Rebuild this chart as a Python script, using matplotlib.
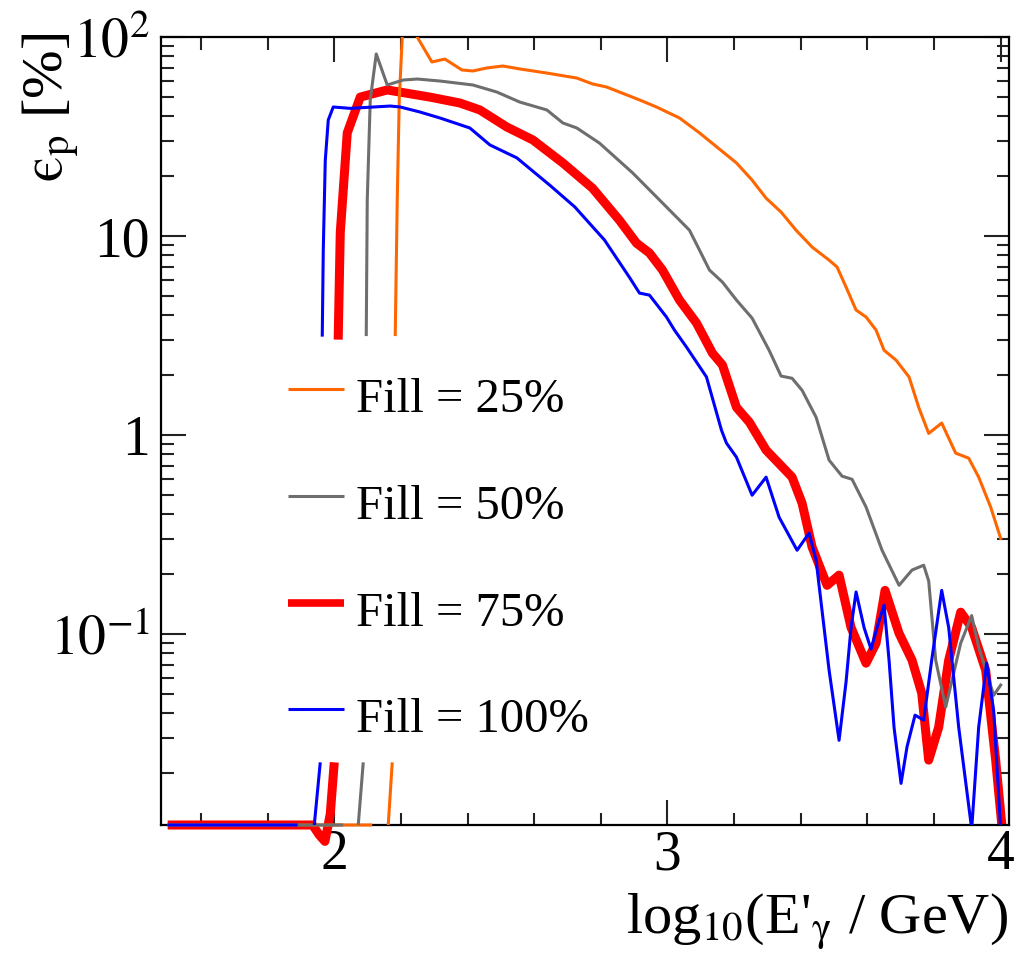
import numpy as np
import matplotlib
matplotlib.use("Agg")
import matplotlib.pyplot as plt
from matplotlib.ticker import FixedLocator, FixedFormatter

plt.rcParams['font.family'] = ['Liberation Serif', 'DejaVu Serif']
plt.rcParams['mathtext.fontset'] = 'stix'

# efficiency curves: log10(E'/GeV) vs eps_p [%]
# "low" parts are the bits drawn on the frame floor (zero efficiency -> 0)
labels = ['Fill = 25%', 'Fill = 50%', 'Fill = 75%', 'Fill = 100%']
colors = ['#ff6600', '#6e6e6e', '#ff0000', '#0000ff']
widths = [2.2, 2.2, 6.5, 2.2]

orange_low_x = [1.50, 2.114, np.nan, 2.162, 2.174]
orange_low_y = [0, 0, np.nan, 0, 0.0227]
orange_x = [2.183, 2.189, 2.195, 2.204, 2.225, 2.249, 2.293, 2.332, 2.383, 2.416,
            2.458, 2.506, 2.557, 2.638, 2.728, 2.775, 2.817, 2.856, 2.916, 2.967,
            3.036, 3.096, 3.207, 3.254, 3.296, 3.341, 3.386, 3.434, 3.485, 3.509,
            3.536, 3.566, 3.596, 3.626, 3.650, 3.686, 3.725, 3.754, 3.784, 3.823,
            3.865, 3.904, 3.934, 3.970, 4.000]
orange_y = [3.2, 15.2, 48.3, 100, 130, 100, 74.9, 77.5, 68.3, 67.5,
            69.9, 71.5, 69.1, 65.9, 62.2, 58.1, 56.1, 52.9, 48.3, 44.5,
            39.2, 33.0, 23.3, 19.1, 15.5, 13.2, 10.7, 8.81, 7.57, 6.99,
            5.54, 4.25, 3.92, 3.37, 2.67, 2.38, 1.96, 1.38, 1.02, 1.15,
            0.812, 0.766, 0.615, 0.435, 0.303]

gray_low_x = [1.50, 2.027, np.nan, 2.072, 2.087]
gray_low_y = [0, 0, np.nan, 0, 0.0227]
gray_x = [2.096, 2.099, 2.108, 2.126, 2.159, 2.207, 2.249, 2.317, 2.416, 2.488,
          2.557, 2.638, 2.686, 2.728, 2.796, 2.895, 2.997, 3.066, 3.096, 3.126,
          3.165, 3.207, 3.254, 3.305, 3.341, 3.374, 3.404, 3.446, 3.485, 3.524,
          3.554, 3.596, 3.644, 3.695, 3.734, 3.769, 3.784, 3.805, 3.835, 3.880,
          3.913, 3.934, 3.979, 4.000]
gray_y = [3.2, 15.2, 48.3, 82.2, 57.4, 60.8, 61.5, 60.1, 57.4, 52.9,
          47.1, 43.0, 37.0, 34.9, 29.3, 20.8, 14.0, 10.7, 8.51, 6.75,
          5.87, 4.77, 3.87, 2.67, 1.98, 1.93, 1.68, 1.23, 0.749, 0.622,
          0.60, 0.435, 0.264, 0.176, 0.210, 0.222, 0.185, 0.074, 0.043, 0.0901,
          0.124, 0.0861, 0.0493, 0.0555]

red_low_x = [1.50, 1.935, 1.955, 1.972, 1.988, 2.000]
red_low_y = [0, 0, 0.0098, 0.0091, 0.0125, 0.0227]
red_x = [2.012, 2.018, 2.039, 2.078, 2.159, 2.287, 2.377, 2.437, 2.518, 2.596,
         2.686, 2.775, 2.856, 2.907, 2.946, 2.985, 3.036, 3.087, 3.135, 3.165,
         3.207, 3.246, 3.296, 3.374, 3.404, 3.434, 3.479, 3.515, 3.551, 3.596,
         3.626, 3.653, 3.695, 3.734, 3.763, 3.784, 3.814, 3.844, 3.880, 3.913,
         3.955, 3.985, 4.003]
red_y = [3.18, 10.4, 33.0, 49.9, 54.2, 49.9, 46.6, 43.0, 35.3, 30.4,
         23.3, 17.4, 12.0, 9.22, 8.22, 6.75, 4.77, 3.66, 2.58, 2.25,
         1.38, 1.16, 0.841, 0.615, 0.455, 0.274, 0.176, 0.198, 0.108, 0.0715,
         0.0901, 0.166, 0.101, 0.074, 0.0506, 0.0233, 0.0341, 0.074, 0.129, 0.108,
         0.0659, 0.0233, 0.0112]

blue_low_x = [1.50, 1.89, np.nan, 1.940, 1.958]
blue_low_y = [0, 0, np.nan, 0, 0.0227]
blue_x = [1.964, 1.967, 1.973, 1.982, 1.997, 2.048, 2.168, 2.198, 2.257, 2.317,
          2.407, 2.467, 2.548, 2.647, 2.722, 2.811, 2.886, 2.916, 2.946, 2.997,
          3.021, 3.057, 3.117, 3.162, 3.177, 3.207, 3.254, 3.296, 3.335, 3.389,
          3.425, 3.446, 3.485, 3.515, 3.536, 3.551, 3.566, 3.590, 3.611, 3.629,
          3.650, 3.665, 3.680, 3.701, 3.719, 3.743, 3.769, 3.793, 3.823, 3.844,
          3.874, 3.913, 3.934, 3.958, 3.979, 4.000]
blue_y = [3.18, 8.5, 24.0, 38.3, 44.5, 43.8, 45.0, 44.5, 42.0, 39.2,
          34.9, 28.7, 24.7, 18.0, 14.0, 9.55, 6.2, 5.17, 5.05, 3.92,
          3.37, 2.77, 1.96, 1.06, 0.912, 0.775, 0.499, 0.615, 0.387, 0.264,
          0.322, 0.236, 0.066, 0.0293, 0.0576, 0.108, 0.163, 0.108, 0.084, 0.108,
          0.140, 0.074, 0.034, 0.0178, 0.0272, 0.0392, 0.037, 0.074, 0.166, 0.108,
          0.0341, 0.0105, 0.0341, 0.0715, 0.0412, 0.0105]

x_ticks = [2, 3, 4]
x_ticklabels = ['2', '3', '4']
y_ticks = [0.1, 1, 10, 100]
y_ticklabels = [r'$10^{-1}$', '1', '10', r'$10^{2}$']

xmin, xmax = 1.48, 4.025
ymin, ymax = 0.011, 100

W, H = 1017, 965
fig = plt.figure(figsize=(W / 100, H / 100), dpi=100)
L, R, T, B = 161, 1009, 37, 825
ax = fig.add_axes([L / W, 1 - B / H, (R - L) / W, (B - T) / H])
ax.set_xlim(xmin, xmax)
ax.set_yscale('log')
ax.set_ylim(ymin, ymax)

def floor(y):
    y = np.array(y, dtype=float)
    return np.where(y <= 0, ymin, y)

series = [
    (orange_low_x, orange_low_y, orange_x, orange_y, 3),
    (gray_low_x, gray_low_y, gray_x, gray_y, 4),
    (red_low_x, red_low_y, red_x, red_y, 2),
    (blue_low_x, blue_low_y, blue_x, blue_y, 5),
]
for (lx, ly, hx, hy, z), c, lw in zip(series, colors, widths):
    ax.plot(lx, floor(ly), color=c, lw=lw, zorder=z, clip_on=False,
            solid_capstyle='butt')
    ax.plot(hx, hy, color=c, lw=lw, zorder=z, solid_joinstyle='round')

# ticks, ROOT style
ax.xaxis.set_major_locator(FixedLocator(x_ticks))
ax.xaxis.set_major_formatter(FixedFormatter(x_ticklabels))
ax.xaxis.set_minor_locator(FixedLocator(np.arange(1.6, 4.01, 0.2)))
ax.yaxis.set_major_locator(FixedLocator(y_ticks))
ax.yaxis.set_major_formatter(FixedFormatter(y_ticklabels))
minors = [m * 10.0 ** e for e in range(-2, 2) for m in range(2, 10)]
ax.yaxis.set_minor_locator(FixedLocator(minors))
ax.yaxis.set_minor_formatter(FixedFormatter([''] * len(minors)))
ax.tick_params(which='both', direction='in', top=True, right=True, width=1.5, color='#222222')
ax.tick_params(which='major', length=18)
ax.tick_params(which='minor', length=9)
ax.tick_params(axis='x', which='major', labelsize=40, pad=3)
ax.tick_params(axis='y', which='major', labelsize=40, pad=8)
for s in ax.spines.values():
    s.set_linewidth(1.6)

# legend drawn by hand
leg_y = [389, 496, 603, 709]
for lab, c, lw, py in zip(labels, colors, widths, leg_y):
    yf = (B - py) / (B - T)
    ax.plot([(288 - L) / (R - L), (344 - L) / (R - L)], [yf, yf], color=c,
            lw=lw if lw < 5 else 5.5, transform=ax.transAxes, solid_capstyle='butt')
    ax.text((356 - L) / (R - L), (B - py - 23) / (B - T), lab, fontsize=35,
            transform=ax.transAxes, ha='left', va='baseline')

fig.text(1008 / W, 1 - 933 / H, r"log$_{\mathrm{10}}$(E'$_{\mathrm{γ}}$ / GeV)", fontsize=42,
         ha='right', va='baseline')
fig.text(20 / W, 1 - 33 / H, r'$\mathrm{ϵ}_{\mathrm{p}}$ [%]', fontsize=42,
         rotation=90, ha='left', va='top')

fig.savefig('out.png', dpi=100)
